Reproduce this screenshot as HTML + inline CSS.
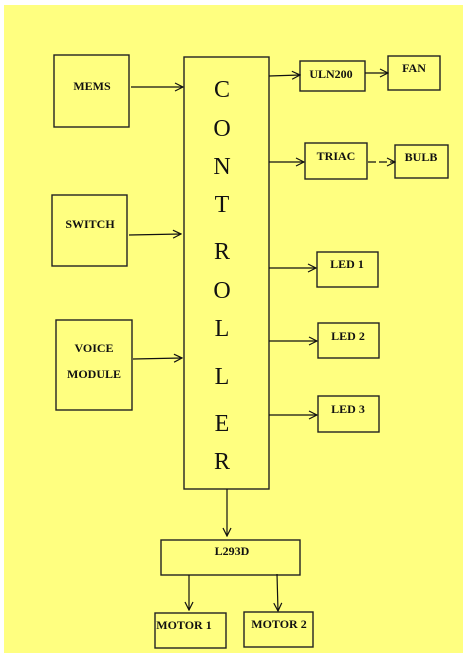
<!DOCTYPE html>
<html><head><style>
html,body{margin:0;padding:0;background:#fff;}
svg{display:block;}
text{font-family:"Liberation Serif",serif;font-weight:bold;fill:#111;}
</style></head><body>
<svg width="463" height="653" viewBox="0 0 463 653" xmlns="http://www.w3.org/2000/svg">
<defs><marker id="a" markerWidth="10" markerHeight="10" refX="9" refY="5" orient="auto" markerUnits="userSpaceOnUse"><path d="M1,1 L9,5 L1,9" fill="none" stroke="#111" stroke-width="1.2"/></marker></defs>
<rect x="4" y="5" width="459" height="648" fill="#ffff80"/>
<g fill="none" stroke="#222" stroke-width="1.4">
<rect x="54" y="55" width="75" height="72"/>
<rect x="52" y="195" width="75" height="71"/>
<rect x="56" y="320" width="76" height="90"/>
<rect x="184" y="57" width="85" height="432"/>
<rect x="300" y="61" width="65" height="30"/>
<rect x="388" y="56" width="52" height="34"/>
<rect x="305" y="143" width="62" height="36"/>
<rect x="395" y="145" width="53" height="33"/>
<rect x="317" y="252" width="61" height="35"/>
<rect x="318" y="323" width="61" height="35"/>
<rect x="318" y="396" width="61" height="36"/>
<rect x="161" y="540" width="139" height="35"/>
<rect x="155" y="613" width="71" height="35"/>
<rect x="244" y="612" width="69" height="35"/>
</g>
<g stroke="#111" stroke-width="1.2" marker-end="url(#a)">
<line x1="131" y1="87" x2="183" y2="87"/>
<line x1="129" y1="235" x2="181" y2="234"/>
<line x1="133" y1="359" x2="182" y2="358"/>
<line x1="269" y1="76" x2="300" y2="75"/>
<line x1="365" y1="73" x2="388" y2="73"/>
<line x1="269" y1="162" x2="304" y2="162"/>
<line x1="368" y1="162" x2="395" y2="162" stroke-dasharray="8,3"/>
<line x1="269" y1="268" x2="316" y2="268"/>
<line x1="269" y1="341" x2="317" y2="341"/>
<line x1="269" y1="415" x2="317" y2="415"/>
<line x1="227" y1="489" x2="227" y2="536"/>
<line x1="189" y1="575" x2="189" y2="610"/>
<line x1="277" y1="574" x2="278" y2="611"/>
</g>
<g font-size="12" text-anchor="middle">
<text x="92" y="90">MEMS</text>
<text x="90" y="228">SWITCH</text>
<text x="94" y="352">VOICE</text>
<text x="94" y="378">MODULE</text>
<text x="331" y="78">ULN200</text>
<text x="414" y="72">FAN</text>
<text x="336" y="160">TRIAC</text>
<text x="421" y="161">BULB</text>
<text x="347" y="268">LED 1</text>
<text x="348" y="340">LED 2</text>
<text x="348" y="413">LED 3</text>
<text x="232" y="555">L293D</text>
<text x="184" y="629">MOTOR 1</text>
<text x="279" y="628">MOTOR 2</text>
</g>
<g font-size="24" text-anchor="middle">
<text x="222" y="97" style="font-weight:normal">C</text>
<text x="222" y="136" style="font-weight:normal">O</text>
<text x="222" y="174" style="font-weight:normal">N</text>
<text x="222" y="212" style="font-weight:normal">T</text>
<text x="222" y="259" style="font-weight:normal">R</text>
<text x="222" y="298" style="font-weight:normal">O</text>
<text x="222" y="336" style="font-weight:normal">L</text>
<text x="222" y="384" style="font-weight:normal">L</text>
<text x="222" y="431" style="font-weight:normal">E</text>
<text x="222" y="469" style="font-weight:normal">R</text>
</g>
</svg>
</body></html>
